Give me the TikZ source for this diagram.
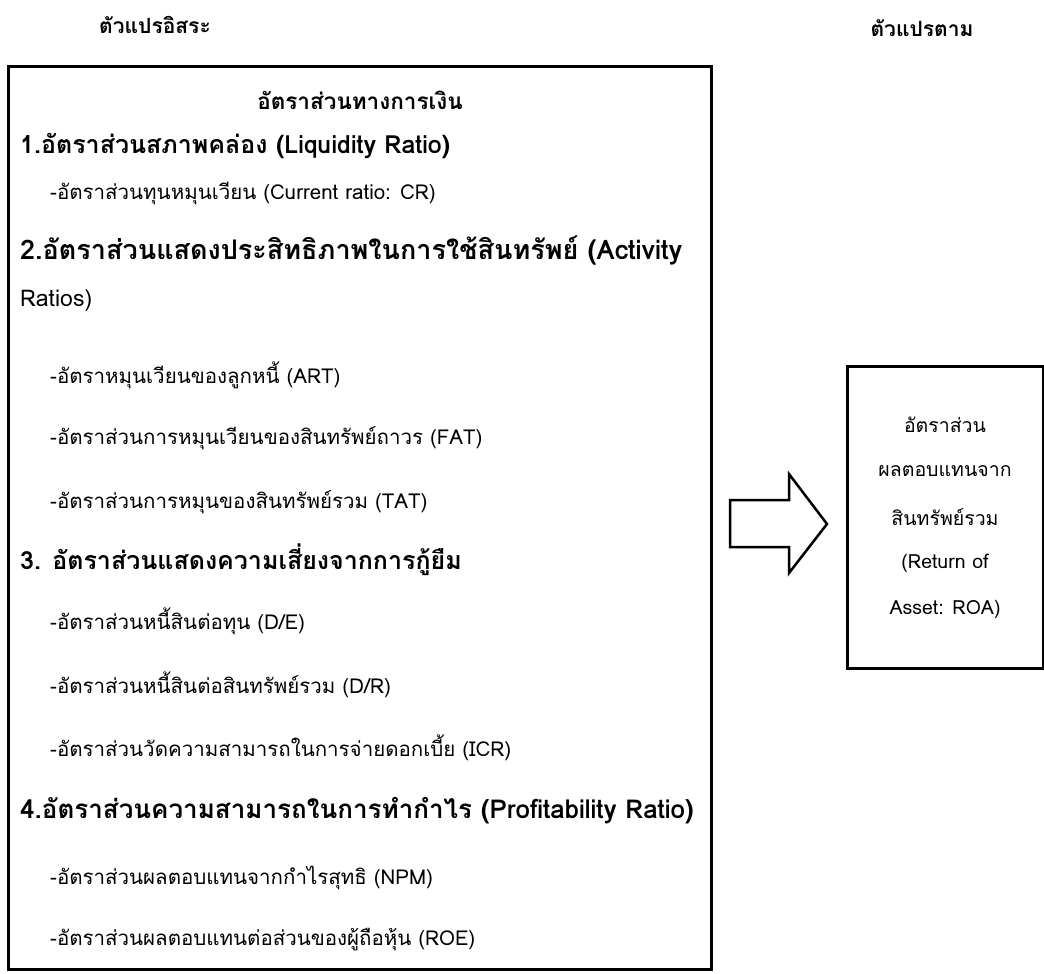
\documentclass[tikz,border=0pt]{standalone}
\usepackage{fontspec}
\newfontfamily\thai[Script=Thai]{Loma}
\begin{document}
\begin{tikzpicture}[x=1pt,y=-1pt,
  txt/.style={anchor=west,inner sep=0pt,font=\thai\fontsize{20.5}{24}\selectfont},
  rtxt/.style={anchor=center,inner sep=0pt,font=\thai\fontsize{19.5}{24}\selectfont},
  head/.style={anchor=west,inner sep=0pt,font=\thai\bfseries\fontsize{25}{30}\selectfont},
  bighead/.style={anchor=west,inner sep=0pt,font=\thai\bfseries\fontsize{27}{32}\selectfont},
  toptitle/.style={anchor=center,inner sep=0pt,font=\thai\bfseries\fontsize{21}{26}\selectfont},
  frame/.style={draw,line width=3pt}]
\useasboundingbox (0,0) rectangle (1044,974);
\node[toptitle] (iv) at (155,25) {ตัวแปรอิสระ};
\node[toptitle] (dv) at (922,28) {ตัวแปรตาม};
\draw[frame] (8,67) rectangle (711,969);
\node[anchor=center,inner sep=0pt,font=\thai\bfseries\fontsize{22.5}{27}\selectfont] (t) at (360,100) {อัตราส่วนทางการเงิน};
\node[head] (h1) at (20,146) {1.อัตราส่วนสภาพคล่อง (Liquidity Ratio)};
\node[txt] (a1) at (50,193) {-อัตราส่วนทุนหมุนเวียน (Current ratio: CR)};
\node[bighead] (h2) at (20,250) {2.อัตราส่วนแสดงประสิทธิภาพในการใช้สินทรัพย์ (Activity};
\node[anchor=west,inner sep=0pt,font=\thai\fontsize{23}{28}\selectfont] (h2b) at (20,301) {Ratios)};
\node[txt] (b1) at (50,375) {-อัตราหมุนเวียนของลูกหนี้ (ART)};
\node[txt] (b2) at (50,438) {-อัตราส่วนการหมุนเวียนของสินทรัพย์ถาวร (FAT)};
\node[txt] (b3) at (50,502) {-อัตราส่วนการหมุนของสินทรัพย์รวม (TAT)};
\node[head] (h3) at (20,560) {3. อัตราส่วนแสดงความเสี่ยงจากการกู้ยืม};
\node[txt] (c1) at (50,621) {-อัตราส่วนหนี้สินต่อทุน (D/E)};
\node[txt] (c2) at (50,685) {-อัตราส่วนหนี้สินต่อสินทรัพย์รวม (D/R)};
\node[txt] (c3) at (50,748) {-อัตราส่วนวัดความสามารถในการจ่ายดอกเบี้ย (ICR)};
\node[head,font=\thai\bfseries\fontsize{26}{30}\selectfont] (h4) at (20,811) {4.อัตราส่วนความสามารถในการทำกำไร (Profitability Ratio)};
\node[txt] (d1) at (50,878) {-อัตราส่วนผลตอบแทนจากกำไรสุทธิ (NPM)};
\node[txt] (d2) at (50,940) {-อัตราส่วนผลตอบแทนต่อส่วนของผู้ถือหุ้น (ROE)};
\begin{scope}
\clip (0,0) rectangle (1044,974);
\draw[frame] (847,366) rectangle (1043,668);
\end{scope}
\node[rtxt] (r1) at (945,425) {อัตราส่วน};
\node[rtxt] (r2) at (945,471) {ผลตอบแทนจาก};
\node[rtxt] (r3) at (945,517) {สินทรัพย์รวม};
\node[rtxt] (r4) at (945,563) {(Return of};
\node[rtxt] (r5) at (945,609) {Asset: ROA)};
\draw[line width=2.5pt,line join=miter] (730,500) -- (789,500) -- (789,474) -- (827,524) -- (789,573) -- (789,547) -- (730,547) -- cycle;
\end{tikzpicture}
\end{document}
